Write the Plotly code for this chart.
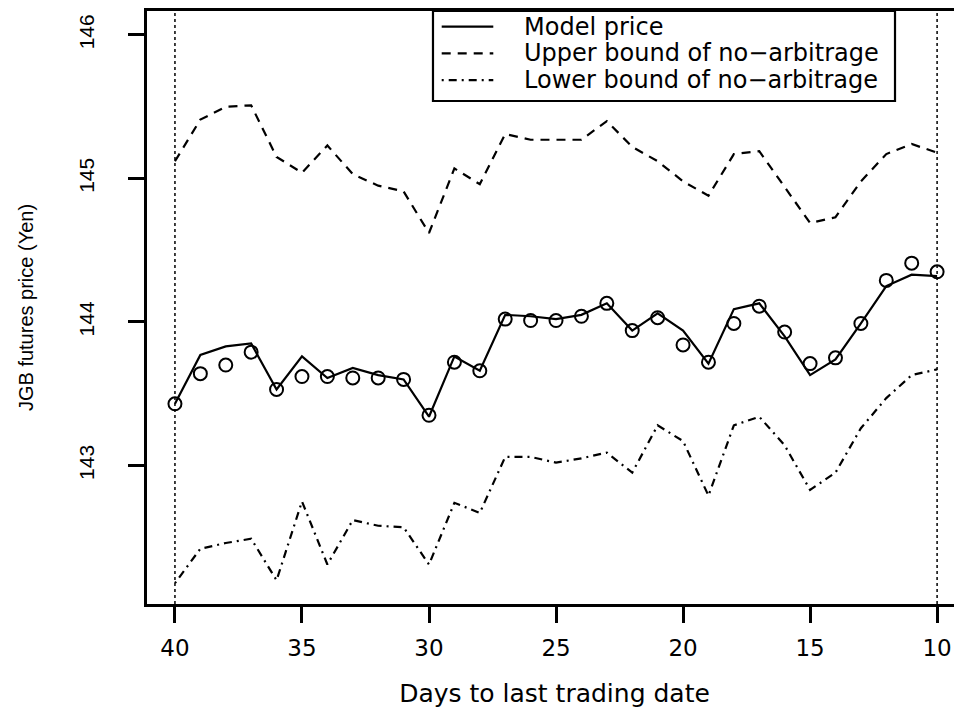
import plotly.graph_objects as go

days = list(range(40, 9, -1))
model_price = [143.43, 143.77, 143.83, 143.85, 143.53, 143.76, 143.61, 143.68, 143.63, 143.60,
               143.34, 143.76, 143.66, 144.05, 144.04, 144.02, 144.05, 144.13, 143.94, 144.06,
               143.94, 143.71, 144.09, 144.13, 143.90, 143.63, 143.74, 143.99, 144.25, 144.33, 144.32]
market_price = [143.43, 143.64, 143.70, 143.79, 143.53, 143.62, 143.62, 143.61, 143.61, 143.60,
                143.35, 143.72, 143.66, 144.02, 144.01, 144.01, 144.04, 144.13, 143.94, 144.03,
                143.84, 143.72, 143.99, 144.11, 143.93, 143.71, 143.75, 143.99, 144.29, 144.41, 144.35]
upper_bound = [145.12, 145.41, 145.50, 145.51, 145.15, 145.04, 145.23, 145.03, 144.95, 144.91,
               144.62, 145.07, 144.96, 145.31, 145.27, 145.27, 145.27, 145.40, 145.22, 145.12,
               144.98, 144.88, 145.17, 145.19, 144.94, 144.69, 144.73, 144.98, 145.17, 145.24, 145.18]
lower_bound = [142.18, 142.42, 142.46, 142.49, 142.20, 142.75, 142.31, 142.62, 142.58, 142.57,
               142.31, 142.74, 142.67, 143.06, 143.06, 143.02, 143.05, 143.09, 142.95, 143.28,
               143.17, 142.79, 143.28, 143.34, 143.14, 142.83, 142.95, 143.26, 143.47, 143.63, 143.67]
x_ticks = [40, 35, 30, 25, 20, 15, 10]
y_ticks = [143, 144, 145, 146]
vlines = [40, 10]
legend_labels = ["Model price", "Upper bound of no\u2212arbitrage", "Lower bound of no\u2212arbitrage"]

styles = [dict(color="black", width=2.2),
          dict(color="black", width=2.2, dash="9px,7px"),
          dict(color="black", width=2.2, dash="2px,5px,8px,5px")]

fig = go.Figure()
for series, name, st in zip([model_price, upper_bound, lower_bound], legend_labels, styles):
    fig.add_trace(go.Scatter(x=days, y=series, mode="lines", name=name, line=st, showlegend=False))
fig.add_trace(go.Scatter(x=days, y=market_price, mode="markers", showlegend=False,
                         marker=dict(symbol="circle-open", size=13, color="black",
                                     line=dict(width=2, color="black"))))
for v in vlines:
    fig.add_vline(x=v, line=dict(color="black", width=1.5, dash="dot"))

# legend box drawn in paper coordinates (R-style legend)
lg_x0, lg_x1, lg_y0, lg_y1 = 0.3509, 0.9178, 0.8482, 1.0
fig.add_shape(type="rect", xref="paper", yref="paper", x0=lg_x0, x1=lg_x1, y0=lg_y0, y1=lg_y1,
              line=dict(color="black", width=2.2), fillcolor="white", layer="above")
entry_y = [0.9735, 0.9287, 0.8836]
for lab, st, yy in zip(legend_labels, styles, entry_y):
    fig.add_shape(type="line", xref="paper", yref="paper", x0=0.3616, x1=0.4249, y0=yy, y1=yy,
                  line=st, layer="above")
    fig.add_annotation(text=lab, xref="paper", yref="paper", x=0.4598, y=yy,
                       xanchor="left", yanchor="middle", showarrow=False,
                       font=dict(family="DejaVu Sans, Liberation Sans, Arial", size=24, color="black"))

fig.update_layout(
    width=954, height=701,
    margin=dict(l=139, r=0, t=3, b=105),
    paper_bgcolor="white", plot_bgcolor="white",
    font=dict(family="DejaVu Sans, Liberation Sans, Arial, sans-serif", color="black", size=23),
    showlegend=False,
)
fig.update_xaxes(range=[41.1, 9.02], tickvals=x_ticks, ticktext=[str(t) for t in x_ticks],
                 showline=True, linecolor="black", linewidth=2.5, mirror=True,
                 ticks="outside", ticklen=16, tickwidth=2.5, tickcolor="black",
                 showgrid=False, zeroline=False, ticklabelstandoff=6,
                 tickfont=dict(size=23),
                 title=dict(text="Days to last trading date", standoff=25, font=dict(size=25)))
fig.update_yaxes(range=[142.035, 146.167], tickvals=y_ticks, ticktext=[str(t) for t in y_ticks],
                 showline=True, linecolor="black", linewidth=2.5, mirror=False,
                 ticks="outside", ticklen=16, tickwidth=2.5, tickcolor="black",
                 showgrid=False, zeroline=False, tickangle=-90, ticklabelstandoff=26,
                 tickfont=dict(family="Liberation Sans Narrow, Liberation Sans, Arial", size=21),
                 title=dict(text="JGB futures price (Yen)", standoff=36,
                            font=dict(family="Liberation Sans Narrow, Liberation Sans, Arial", size=20)))
fig.write_html("out.html")
